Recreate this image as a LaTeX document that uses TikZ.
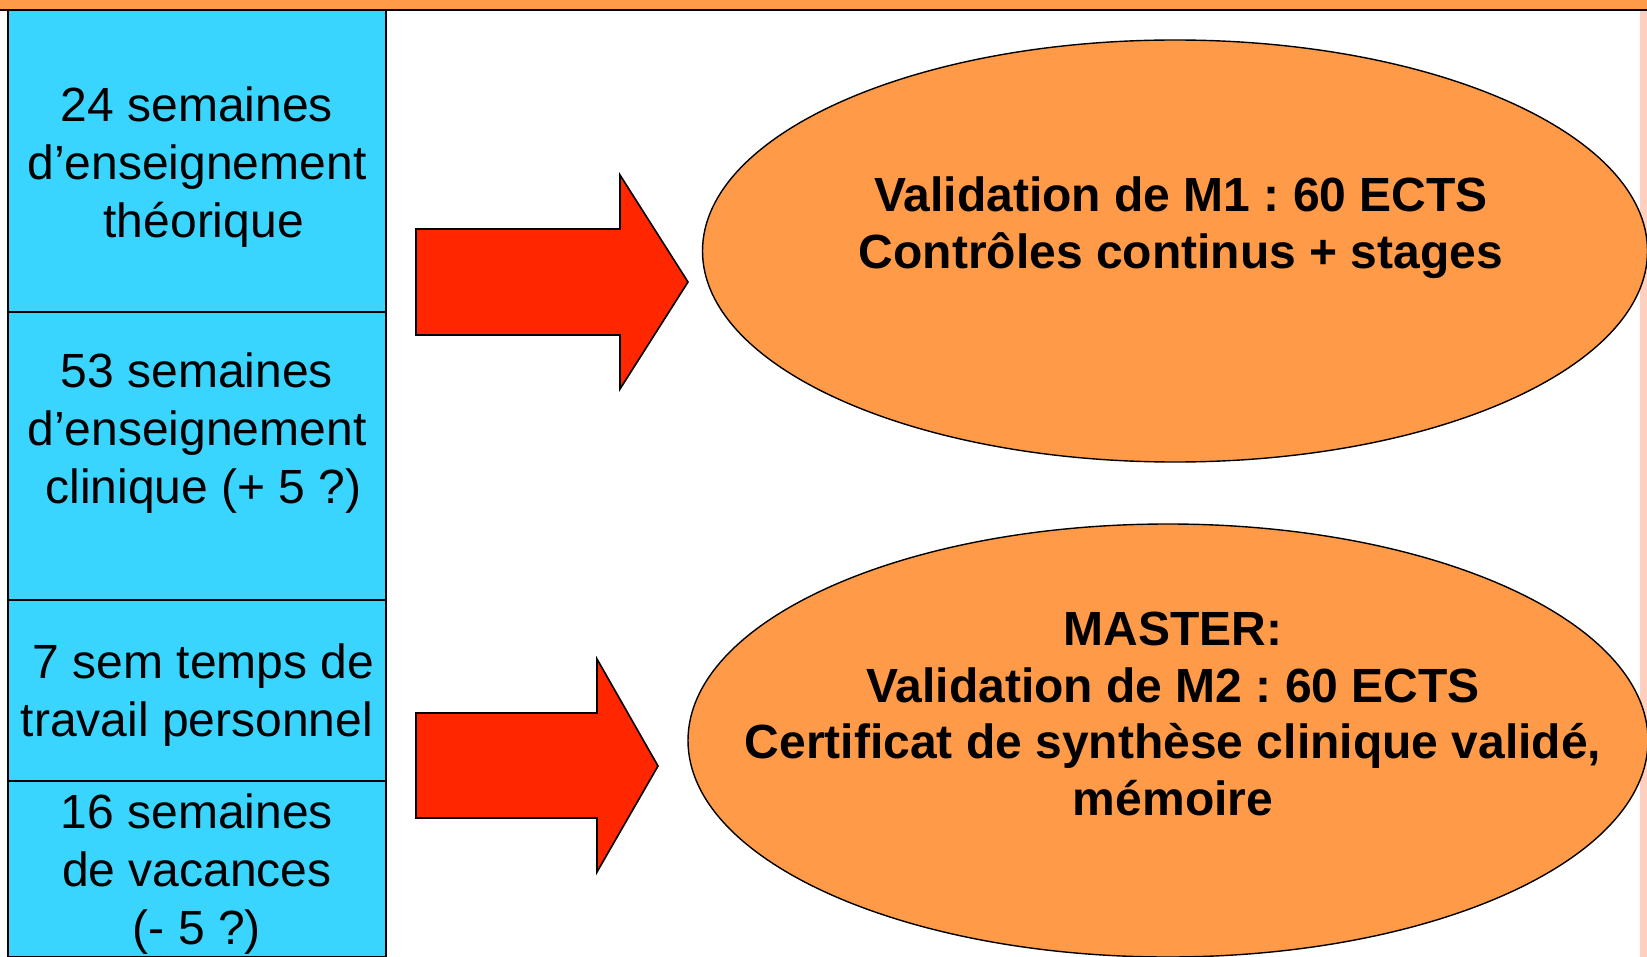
\documentclass[tikz,border=0pt]{standalone}
\usepackage{fontspec}
\setmainfont{Liberation Sans}
\usetikzlibrary{shapes.geometric}
\frenchspacing
\definecolor{cellblue}{HTML}{3AD5FF}
\definecolor{ovalorange}{HTML}{FF9B48}
\definecolor{arrowred}{HTML}{FF2600}
\definecolor{stripink}{HTML}{FFD0C0}
\tikzset{
  cell/.style={draw=black, line width=0.9pt, fill=cellblue, rectangle, inner sep=0pt, minimum width=189pt},
  celltext/.style={align=center, font=\fontsize{24}{28.8}\selectfont, inner sep=0pt},
  oval/.style={draw=black, line width=0.7pt, fill=ovalorange, ellipse, inner sep=0pt},
  ovaltext/.style={align=center, font=\fontsize{24}{28.4}\selectfont\bfseries, inner sep=0pt},
  blockarrow/.style={draw=black, line width=0.8pt, fill=arrowred, line join=miter}
}
\newcommand{\lsp}{\hspace*{0.278em}}
\begin{document}
\begin{tikzpicture}[x=0.5pt, y=-0.5pt]
\useasboundingbox (0,0) rectangle (1647,957);
% top bar and right strip
\fill[ovalorange] (0,0) rectangle (1647,10);
\draw[line width=0.9pt] (0,10) -- (1647,10);
\fill[stripink] (1640,11) rectangle (1647,957);
% left column cells
\node[cell, minimum height=151pt] (c1) at (197,161) {};
\node[cell, minimum height=144pt] (c2) at (197,456) {};
\node[cell, minimum height=90.5pt] (c3) at (197,690.5) {};
\node[cell, minimum height=88pt] (c4) at (197,869) {};
\node[celltext] (t1) at (197,167) {24 semaines\\d’enseignement\\\lsp théorique};
\node[celltext] (t2) at (197,433) {53 semaines\\d’enseignement\\\lsp clinique (+ 5 ?)};
\node[celltext] (t3) at (197,695) {\lsp 7 sem temps de\\travail personnel};
\node[celltext] (t4) at (197,874) {16 semaines\\de vacances\\(- 5 ?)};
% ovals
\node[oval, minimum width=472.5pt, minimum height=211pt] (o1) at (1175,251) {};
\node[oval, minimum width=480pt, minimum height=216.5pt] (o2) at (1168,740.5) {};
\node[ovaltext] (ot1) at (1181,228) {Validation de M1 : 60 ECTS\\Contrôles continus + stages};
\node[ovaltext] (ot2) at (1173,714) {MASTER:\\Validation de M2 : 60 ECTS\\Certificat de synthèse clinique validé,\\mémoire};
% block arrows
\draw[blockarrow] (416,229) -- (620,229) -- (620,175) -- (688,282) -- (620,389) -- (620,335) -- (416,335) -- cycle;
\draw[blockarrow] (416,713) -- (597,713) -- (597,659) -- (658,766) -- (597,872) -- (597,818) -- (416,818) -- cycle;
\end{tikzpicture}
\end{document}
